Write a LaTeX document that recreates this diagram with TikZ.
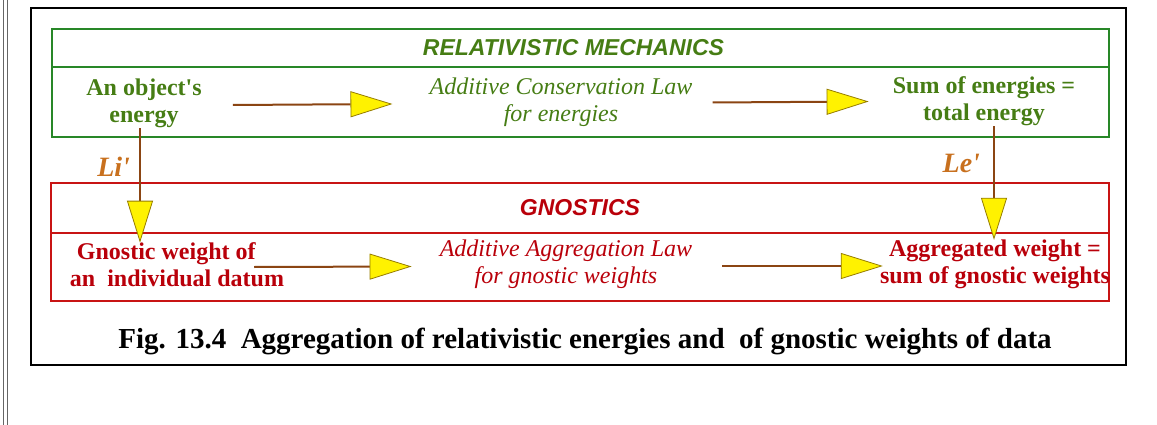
\documentclass[tikz,border=0pt]{standalone}
\usepackage{fontspec}
\setmainfont{Liberation Serif}
\setsansfont{Liberation Sans}
\usepackage{tikz}
\usetikzlibrary{arrows.meta,positioning}

\definecolor{boxgreen}{RGB}{40,135,40}
\definecolor{txtgreen}{RGB}{70,125,20}
\definecolor{boxred}{RGB}{200,20,20}
\definecolor{txtred}{RGB}{185,0,10}
\definecolor{arrowbrown}{RGB}{139,69,19}
\definecolor{tipedge}{RGB}{150,125,0}
\definecolor{lblorange}{RGB}{200,112,30}

\begin{document}
\begin{tikzpicture}[
  x=1pt, y=-1pt,
  mechbox/.style={draw=boxgreen, line width=1.6pt, rectangle, inner sep=0pt, outer sep=0pt, minimum width=1057pt},
  gnobox/.style={draw=boxred, line width=1.6pt, rectangle, inner sep=0pt, outer sep=0pt, minimum width=1058pt},
  headtxt/.style={font=\fontsize{23}{26}\selectfont\sffamily\bfseries\itshape},
  termtxt/.style={inner sep=0pt, align=center, font=\fontsize{24}{27}\selectfont\bfseries},
  lawtxt/.style={inner sep=0pt, align=center, font=\fontsize{24}{27}\selectfont\itshape},
  flow/.style={draw=arrowbrown, line width=2pt, -{Triangle[length=42pt,width=26pt,fill=yellow,color=tipedge,line width=0.8pt]}},
  lbl/.style={text=lblorange, inner sep=0pt, font=\fontsize{28}{30}\selectfont\bfseries\itshape},
]
\useasboundingbox (0,0) rectangle (1157,425);

% page edge and frame
\draw[gray!80!black, line width=1pt] (3,0) -- (3,425);
\draw[gray!80!black, line width=1pt] (7,0) -- (7,425);
\draw[line width=2.5pt] (31,8) rectangle (1126,365);

% Relativistic mechanics
\node[mechbox, minimum height=38pt, text=txtgreen, headtxt] (mechhead) at (580.5,48) {\hspace{-14pt}RELATIVISTIC MECHANICS};
\node[mechbox, minimum height=70pt] (mechbody) at (580.5,102) {};
\node[termtxt, text=txtgreen] (energy) at (144,103.5) {An object\textquotesingle s\\energy};
\node[lawtxt, text=txtgreen] (conslaw) at (561,102.5) {Additive Conservation Law\\for energies};
\node[termtxt, text=txtgreen] (totenergy) at (984,101.5) {Sum of energies =\\total energy};

% Gnostics
\node[gnobox, minimum height=50pt, text=txtred, headtxt] (gnohead) at (580,208) {GNOSTICS};
\node[gnobox, minimum height=68pt] (gnobody) at (580,267) {};
\node[termtxt, align=left, text=txtred] (weight) at (177,265) {\hspace{7pt}Gnostic weight of\\an\ \ individual datum};
\node[lawtxt, text=txtred] (agglaw) at (566,264.5) {Additive Aggregation Law\\for gnostic weights};
\node[termtxt, text=txtred] (aggweight) at (995,264.5) {Aggregated weight =\\sum of gnostic weights};

% Arrows
\draw[flow] ([xshift=31pt,yshift=-1.5pt]energy.east) -- ([xshift=-37pt,yshift=-1.5pt]conslaw.west);
\draw[flow] ([xshift=20pt]conslaw.east) -- ([xshift=-24pt]totenergy.west);
\draw[flow] ([xshift=-30pt,yshift=-2pt]weight.east) -- ([xshift=-28pt,yshift=-2pt]agglaw.west);
\draw[flow] ([xshift=30pt,yshift=-1.5pt]agglaw.east) -- ([xshift=3pt,yshift=-1.5pt]aggweight.west);
\draw[flow] ([xshift=-4pt]energy.south) -- ([xshift=-4pt]energy.south |- weight.north)
  node[lbl, pos=0.34, left=9pt] (li) {Li\textquotesingle};
\draw[flow] ([xshift=10pt]totenergy.south) -- ([xshift=10pt]totenergy.south |- aggweight.north)
  node[lbl, pos=0.33, left=13pt] (le) {Le\textquotesingle};

% Caption
\node[font=\fontsize{29}{32}\selectfont\bfseries, anchor=base] (caption) at (585,348)
  {Fig. 13.4\ \ Aggregation of relativistic energies and\ \ of gnostic weights of data};
\end{tikzpicture}
\end{document}
